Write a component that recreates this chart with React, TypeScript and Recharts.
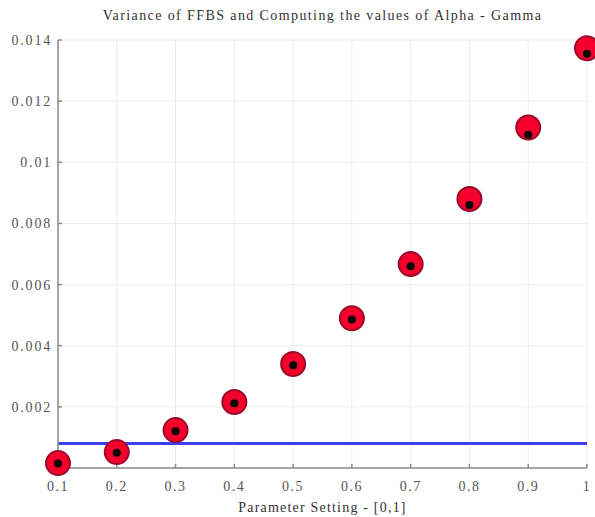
import React from 'react';
import {
    ComposedChart,
    Scatter,
    XAxis,
    YAxis,
    CartesianGrid,
    ReferenceLine
} from 'recharts';

const parameterSettings = [0.1, 0.2, 0.3, 0.4, 0.5, 0.6, 0.7, 0.8, 0.9, 1];
const ffbsVariance = [0.00016, 0.00052, 0.00124, 0.00216, 0.0034, 0.0049, 0.00667, 0.0088, 0.01114, 0.01373];
const alphaGammaValues = [0.00015, 0.0005, 0.0012, 0.00212, 0.00336, 0.00486, 0.0066, 0.0086, 0.0109, 0.01355];
const baseline = 0.0008;

const xTicks = [0.1, 0.2, 0.3, 0.4, 0.5, 0.6, 0.7, 0.8, 0.9, 1];
const yTicks = [0.002, 0.004, 0.006, 0.008, 0.01, 0.012, 0.014];

const title = 'Variance of FFBS and Computing the values of Alpha - Gamma';
const xLabel = 'Parameter Setting - [0,1]';

const data = parameterSettings.map((x, i) => ({
    x,
    red: ffbsVariance[i],
    black: alphaGammaValues[i]
}));

const font = '"Liberation Serif", "DejaVu Serif", serif';

const RedDot = (props: any) => {
    const { cx, cy } = props;
    return <circle cx={cx} cy={cy} r={12} fill="#f5002c" stroke="#9a0a2a" strokeWidth={2} />;
};

const BlackDot = (props: any) => {
    const { cx, cy } = props;
    return <circle cx={cx} cy={cy} r={4} fill="#050505" />;
};

export default function App() {
    return (
        <div style={{ position: 'absolute', left: 0, top: 0, width: 595, height: 517, background: '#fff' }}>
            <div
                style={{
                    position: 'absolute',
                    left: 58,
                    width: 529,
                    top: 8,
                    textAlign: 'center',
                    fontFamily: font,
                    fontSize: 14,
                    letterSpacing: 1.4,
                    color: '#333'
                }}
            >
                {title}
            </div>
            <ComposedChart
                width={595}
                height={517}
                data={data}
                margin={{ top: 40, right: 8, left: 0, bottom: 0 }}
            >
                <CartesianGrid stroke="#ececec" strokeWidth={1} />
                <XAxis
                    type="number"
                    dataKey="x"
                    domain={[0.1, 1]}
                    ticks={xTicks}
                    tickFormatter={(v: number) => String(v)}
                    height={49}
                    stroke="#8a8a8a"
                    strokeWidth={1.5}
                    tickSize={-4}
                    tickMargin={17}
                    tick={{ fill: '#555', fontSize: 14, fontFamily: font, letterSpacing: 1.5 }}
                    label={{
                        value: xLabel,
                        position: 'insideBottom',
                        offset: 5,
                        fill: '#333',
                        fontSize: 14,
                        fontFamily: font,
                        letterSpacing: 1.2
                    }}
                />
                <YAxis
                    type="number"
                    domain={[0, 0.014]}
                    ticks={yTicks}
                    tickFormatter={(v: number) => String(v)}
                    width={58}
                    stroke="#8a8a8a"
                    strokeWidth={1.5}
                    tickSize={-4}
                    tickMargin={10}
                    tick={{ fill: '#555', fontSize: 14, fontFamily: font, letterSpacing: 1.8 }}
                />
                <ReferenceLine y={baseline} stroke="#3f3ff2" strokeWidth={3} />
                <Scatter dataKey="red" shape={RedDot} isAnimationActive={false} />
                <Scatter dataKey="black" shape={BlackDot} isAnimationActive={false} />
            </ComposedChart>
        </div>
    );
}
